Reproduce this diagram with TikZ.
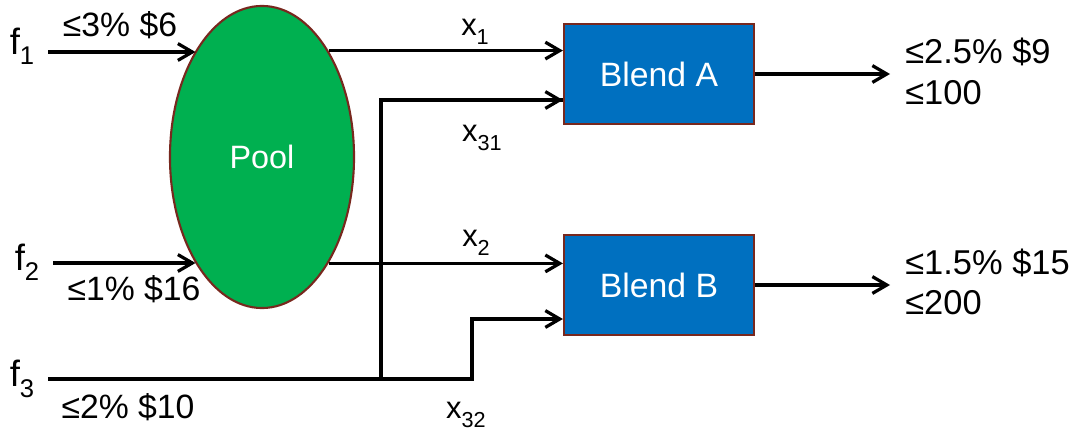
\documentclass[tikz,border=0pt]{standalone}
\usepackage{fontspec}
\setmainfont{Liberation Sans}
\usepackage{tikz}
\usetikzlibrary{arrows.meta, shapes.geometric}

\definecolor{poolgreen}{RGB}{0,176,80}
\definecolor{blendblue}{RGB}{0,112,192}
\definecolor{rimbrown}{RGB}{120,40,30}

\newcommand{\lowidx}[1]{\raisebox{-0.28em}{\scalebox{0.7}{#1}}}

\begin{document}
\begin{tikzpicture}[x=0.025cm, y=-0.025cm,
  flow/.style={line width=2.3pt, -{Straight Barb[length=3.6mm, width=4.2mm]}},
  pipe/.style={line width=2.3pt},
  blendbox/.style={draw=rimbrown, line width=1.5pt, fill=blendblue,
    minimum width=4.75cm, minimum height=2.5cm, inner sep=0pt,
    text=white, font=\fontsize{24}{28}\selectfont},
  feedlbl/.style={inner sep=0pt, font=\fontsize{26}{30}\selectfont},
  flowlbl/.style={inner sep=0pt, font=\fontsize{22}{26}\selectfont},
  spec/.style={inner sep=0pt, font=\fontsize{24}{28}\selectfont},
  outspec/.style={inner sep=0pt, anchor=west, font=\fontsize{24.5}{28}\selectfont}]
  \useasboundingbox (0,0) rectangle (1077,432);

  % ---- pool and blends ----
  \node[ellipse, draw=rimbrown, line width=1.5pt, fill=poolgreen,
    minimum width=4.6cm, minimum height=7.55cm, inner sep=0pt,
    text=white, font=\fontsize{23}{27}\selectfont] (pool) at (262,157) {Pool};
  \node[blendbox] (blendA) at (659,74) {Blend A};
  \node[blendbox] (blendB) at (659,285) {Blend B};

  % ---- feeds ----
  \node[feedlbl] (f1) at (22,46) {f\lowidx{1}};
  \node[feedlbl] (f2) at (27,262) {f\lowidx{2}};
  \node[feedlbl] (f3) at (22,379) {f\lowidx{3}};
  \coordinate (f1s) at (48,52);
  \coordinate (f2s) at (53,263);
  \coordinate (f3s) at (48,379);
  \coordinate (j31) at (381,379);
  \coordinate (j32) at (472,379);
  \draw[flow] (f1s) -- (f1s -| pool.122);
  \draw[flow] (f2s) -- (f2s -| pool.-122);
  \draw[pipe] (j31) |- ([yshift=-0.65cm]blendA.west);
  \draw[flow] ([yshift=-0.65cm]blendA.west -| j31) -- ([yshift=-0.65cm]blendA.west);
  \draw[flow] (f3s) -- (j32) |- ([yshift=-0.85cm]blendB.west);
  \node[spec] (q1) at (120,25) {≤3\% \$6};
  \node[spec] (q2) at (134,289) {≤1\% \$16};
  \node[spec] (q3) at (128,407) {≤2\% \$10};

  % ---- pool outlets ----
  \draw[flow] (pool.58) -- (pool.58 -| blendA.west);
  \draw[flow] (pool.-58) -- (pool.-58 -| blendB.west);
  \node[flowlbl] (x1) at (475,32) {x\lowidx{1}};
  \node[flowlbl] (x31) at (482,138) {x\lowidx{31}};
  \node[flowlbl] (x2) at (476,243) {x\lowidx{2}};
  \node[flowlbl] (x32) at (466,415) {x\lowidx{32}};

  % ---- products ----
  \coordinate (endP) at (890,0);
  \draw[flow] (blendA.east) -- (blendA.east -| endP);
  \draw[flow] (blendB.east) -- (blendB.east -| endP);
  \node[outspec] (pA1) at (905,52) {≤2.5\% \$9};
  \node[outspec] (pA2) at (905,93) {≤100};
  \node[outspec] (pB1) at (905,263) {≤1.5\% \$15};
  \node[outspec] (pB2) at (905,303) {≤200};
\end{tikzpicture}
\end{document}
